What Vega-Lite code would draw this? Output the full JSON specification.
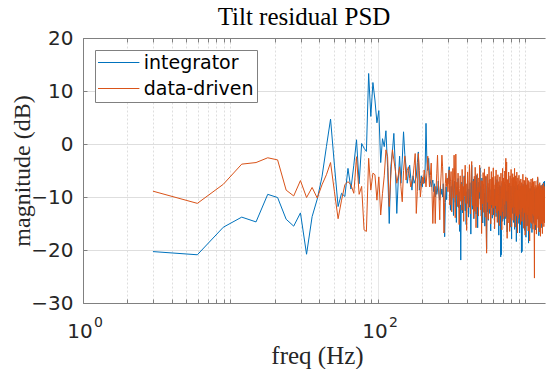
{
"$schema": "https://vega.github.io/schema/vega-lite/v6.json",
"width": 462, "height": 265,
"autosize": {"type": "none"},
"padding": {"left": 83, "top": 38, "right": 1, "bottom": 66},
"background": "white",
"title": {"text": "Tilt residual PSD", "font": "Liberation Serif", "fontSize": 25, "fontWeight": "normal", "color": "#000000", "anchor": "middle", "frame": "group", "offset": -22, "baseline": "alphabetic", "dx": -10},
"data": {"values": [
{"f":2.98,"integrator":-20.3,"data-driven":-8.9},
{"f":5.96,"integrator":-20.9,"data-driven":-11.2},
{"f":8.94,"integrator":-15.7,"data-driven":-7.6},
{"f":11.92,"integrator":-13.8,"data-driven":-3.8},
{"f":14.9,"integrator":-14.7,"data-driven":-3.5},
{"f":17.88,"integrator":-9.5,"data-driven":-2.6},
{"f":20.86,"integrator":-10.1,"data-driven":-3.0},
{"f":23.84,"integrator":-14.2,"data-driven":-8.7},
{"f":26.82,"integrator":-15.5,"data-driven":-9.8},
{"f":29.8,"integrator":-13.0,"data-driven":-6.9},
{"f":32.78,"integrator":-20.8,"data-driven":-10.1},
{"f":35.76,"integrator":-13.7,"data-driven":-8.2},
{"f":38.74,"integrator":-10.4,"data-driven":-10.2},
{"f":41.72,"integrator":-6.2,"data-driven":-7.7},
{"f":44.7,"integrator":-0.5,"data-driven":-5.8},
{"f":47.68,"integrator":4.7,"data-driven":-3.5},
{"f":50.66,"integrator":-4.0,"data-driven":-9.0},
{"f":53.64,"integrator":-11.8,"data-driven":-14.1},
{"f":56.62,"integrator":-9.3,"data-driven":-10.6},
{"f":59.6,"integrator":-9.9,"data-driven":-7.7},
{"f":62.58,"integrator":-4.6,"data-driven":-7.1},
{"f":65.56,"integrator":-8.5,"data-driven":-7.7},
{"f":68.54,"integrator":-4.0,"data-driven":-9.3},
{"f":71.52,"integrator":0.8,"data-driven":-2.4},
{"f":74.5,"integrator":-7.5,"data-driven":-9.5},
{"f":77.48,"integrator":0.1,"data-driven":-8.0},
{"f":80.46,"integrator":-0.8,"data-driven":-16.2},
{"f":83.44,"integrator":-1.4,"data-driven":-16.5},
{"f":86.42,"integrator":13.3,"data-driven":-2.7},
{"f":89.4,"integrator":5.2,"data-driven":-8.7},
{"f":92.38,"integrator":11.6,"data-driven":-5.5},
{"f":95.36,"integrator":8.3,"data-driven":-5.8},
{"f":98.34,"integrator":4.0,"data-driven":-10.6},
{"f":101.3,"integrator":6.3,"data-driven":-6.2},
{"f":104.3,"integrator":-3.5,"data-driven":-13.4},
{"f":107.3,"integrator":1.0,"data-driven":-9.3},
{"f":110.3,"integrator":-0.5,"data-driven":-6.0},
{"f":113.2,"integrator":2.5,"data-driven":-1.1},
{"f":116.2,"integrator":-4.5,"data-driven":-2.4},
{"f":119.2,"integrator":-15.0,"data-driven":-11.8},
{"f":122.2,"integrator":-4.3,"data-driven":-6.0},
{"f":125.2,"integrator":-1.5,"data-driven":-1.1},
{"f":128.1,"integrator":2.0,"data-driven":-3.0},
{"f":131.1,"integrator":-4.3,"data-driven":-4.9},
{"f":134.1,"integrator":-13.1,"data-driven":-7.4},
{"f":137.1,"integrator":-7.0,"data-driven":-6.0},
{"f":140.1,"integrator":-2.3,"data-driven":-4.3},
{"f":143,"integrator":-7.4,"data-driven":-8.0},
{"f":146,"integrator":-3.0,"data-driven":-10.9},
{"f":149,"integrator":2.3,"data-driven":-5.0},
{"f":152,"integrator":-2.0,"data-driven":-2.3},
{"f":155,"integrator":-4.3,"data-driven":-6.8},
{"f":157.9,"integrator":-7.4,"data-driven":-5.0},
{"f":160.9,"integrator":-5.5,"data-driven":-4.3},
{"f":163.9,"integrator":-4.0,"data-driven":-6.5},
{"f":166.9,"integrator":-6.5,"data-driven":-8.1},
{"f":169.9,"integrator":-8.7,"data-driven":-7.0},
{"f":172.8,"integrator":-6.0,"data-driven":-6.2},
{"f":175.8,"integrator":-7.4,"data-driven":-4.0},
{"f":178.8,"integrator":-6.8,"data-driven":-1.8},
{"f":181.8,"integrator":-6.2,"data-driven":-13.1},
{"f":184.8,"integrator":-3.5,"data-driven":-9.0},
{"f":187.7,"integrator":-1.5,"data-driven":-1.8},
{"f":190.7,"integrator":-8.7,"data-driven":-5.0},
{"f":193.7,"integrator":-7.5,"data-driven":-10.0},
{"f":196.7,"integrator":-6.0,"data-driven":-8.0},
{"f":199.7,"integrator":-8.1,"data-driven":-6.2},
{"f":202.6,"integrator":-6.5,"data-driven":-7.5},
{"f":205.6,"integrator":-7.4,"data-driven":-4.9},
{"f":208.6,"integrator":-5.0,"data-driven":-6.0},
{"f":211.6,"integrator":3.9,"data-driven":-8.1},
{"f":214.6,"integrator":-3.4,"data-driven":-5.5},
{"f":217.5,"integrator":-5.0,"data-driven":-2.3},
{"f":220.5,"integrator":-2.7,"data-driven":-5.0},
{"f":223.5,"integrator":-6.0,"data-driven":-8.1},
{"f":226.5,"integrator":-7.0,"data-driven":-6.0},
{"f":229.5,"integrator":-8.1,"data-driven":-3.6},
{"f":232.4,"integrator":-7.5,"data-driven":-9.0},
{"f":235.4,"integrator":-6.8,"data-driven":-15.0},
{"f":238.4,"integrator":-9.0,"data-driven":-10.0},
{"f":241.4,"integrator":-7.5,"data-driven":-8.0},
{"f":244.4,"integrator":-10.0,"data-driven":-15.0},
{"f":247.3,"integrator":-8.0,"data-driven":-9.0},
{"f":250.3,"integrator":-9.5,"data-driven":-5.5},
{"f":253.3,"integrator":-8.7,"data-driven":-2.1},
{"f":256.3,"integrator":-7.0,"data-driven":-7.0},
{"f":259.3,"integrator":-9.5,"data-driven":-10.0},
{"f":262.2,"integrator":-10.6,"data-driven":-14.3},
{"f":265.2,"integrator":-8.0,"data-driven":-8.0},
{"f":268.2,"integrator":-9.5,"data-driven":-5.5},
{"f":271.2,"integrator":-8.5,"data-driven":-2.1},
{"f":274.2,"integrator":-10.0,"data-driven":-4.3},
{"f":277.1,"integrator":-7.5,"data-driven":-9.0},
{"f":280.1,"integrator":-12.0,"data-driven":-16.8},
{"f":283.1,"integrator":-17.5,"data-driven":-11.0},
{"f":286.1,"integrator":-11.0,"data-driven":-7.5},
{"f":289.1,"integrator":-8.1,"data-driven":-5.5},
{"f":292,"integrator":-10.5,"data-driven":-8.0},
{"f":295,"integrator":-6.5,"data-driven":-6.5},
{"f":298,"integrator":-7.5,"data-driven":-9.0},
{"f":301,"integrator":-5.5,"data-driven":-6.0},
{"f":304,"integrator":-4.3,"data-driven":-4.9},
{"f":307,"integrator":-9.8,"data-driven":-11.5},
{"f":310,"integrator":-12.5,"data-driven":-7.0},
{"f":313,"integrator":-8.0,"data-driven":-5.2},
{"f":316,"integrator":-10.5,"data-driven":-12.8},
{"f":319,"integrator":-6.8,"data-driven":-8.5},
{"f":322,"integrator":-9.2,"data-driven":-4.6},
{"f":325,"integrator":-13.5,"data-driven":-10.2},
{"f":328,"integrator":-8.6,"data-driven":-2.1},
{"f":331,"integrator":-7.0,"data-driven":-6.8},
{"f":334,"integrator":-11.0,"data-driven":-13.9},
{"f":337,"integrator":-9.3,"data-driven":-1.9},
{"f":340,"integrator":-14.8,"data-driven":-9.6},
{"f":343,"integrator":-8.1,"data-driven":-7.2},
{"f":346,"integrator":-10.2,"data-driven":-11.8},
{"f":349,"integrator":-6.5,"data-driven":-5.5},
{"f":352,"integrator":-12.0,"data-driven":-9.0},
{"f":355,"integrator":-9.0,"data-driven":-15.2},
{"f":358,"integrator":-16.5,"data-driven":-8.4},
{"f":361,"integrator":-11.5,"data-driven":-6.0},
{"f":364,"integrator":-21.9,"data-driven":-10.8},
{"f":367,"integrator":-10.0,"data-driven":-7.6},
{"f":370,"integrator":-7.2,"data-driven":-12.5},
{"f":372,"integrator":-9.5,"data-driven":-4.8},
{"f":375,"integrator":-13.0,"data-driven":-10.5},
{"f":378,"integrator":-8.2,"data-driven":-8.0},
{"f":381,"integrator":-10.8,"data-driven":-14.6},
{"f":384,"integrator":-6.0,"data-driven":-6.2},
{"f":387,"integrator":-9.9,"data-driven":-9.8},
{"f":390,"integrator":-12.6,"data-driven":-4.0},
{"f":393,"integrator":-7.8,"data-driven":-11.2},
{"f":396,"integrator":-15.2,"data-driven":-7.5},
{"f":399,"integrator":-9.0,"data-driven":-16.3},
{"f":402,"integrator":-11.2,"data-driven":-8.8},
{"f":405,"integrator":-6.9,"data-driven":-5.3},
{"f":408,"integrator":-10.4,"data-driven":-9.9},
{"f":411,"integrator":-13.8,"data-driven":-12.0},
{"f":414,"integrator":-8.5,"data-driven":-6.6},
{"f":417,"integrator":-11.9,"data-driven":-3.9},
{"f":420,"integrator":-7.3,"data-driven":-10.3},
{"f":423,"integrator":-9.6,"data-driven":-13.2},
{"f":426,"integrator":-17.0,"data-driven":-8.1},
{"f":429,"integrator":-10.1,"data-driven":-5.0},
{"f":432,"integrator":-4.0,"data-driven":-3.3},
{"f":435,"integrator":-8.8,"data-driven":-9.2},
{"f":438,"integrator":-12.3,"data-driven":-11.6},
{"f":441,"integrator":-9.4,"data-driven":-7.0},
{"f":444,"integrator":-6.6,"data-driven":-14.0},
{"f":447,"integrator":-14.1,"data-driven":-9.5},
{"f":450,"integrator":-10.0,"data-driven":-6.1},
{"f":453,"integrator":-8.3,"data-driven":-12.7},
{"f":456,"integrator":-11.7,"data-driven":-4.4},
{"f":459,"integrator":-7.5,"data-driven":-8.7},
{"f":462,"integrator":-13.2,"data-driven":-15.8},
{"f":465,"integrator":-9.1,"data-driven":-10.4},
{"f":468,"integrator":-5.9,"data-driven":-7.3},
{"f":471,"integrator":-10.6,"data-driven":-5.6},
{"f":474,"integrator":-15.8,"data-driven":-11.9},
{"f":477,"integrator":-8.9,"data-driven":-8.2},
{"f":480,"integrator":-12.1,"data-driven":-13.6},
{"f":483,"integrator":-7.2,"data-driven":-6.4},
{"f":486,"integrator":-10.3,"data-driven":-9.1},
{"f":489,"integrator":-9.0,"data-driven":-4.0},
{"f":492,"integrator":-4.5,"data-driven":-7.7},
{"f":495,"integrator":-11.4,"data-driven":-12.4},
{"f":498,"integrator":-8.0,"data-driven":-9.3},
{"f":501,"integrator":-13.6,"data-driven":-6.9},
{"f":504,"integrator":-9.7,"data-driven":-16.9},
{"f":507,"integrator":-6.4,"data-driven":-10.1},
{"f":510,"integrator":-11.8,"data-driven":-7.0},
{"f":513,"integrator":-14.9,"data-driven":-11.3},
{"f":516,"integrator":-8.7,"data-driven":-5.4},
{"f":519,"integrator":-10.9,"data-driven":-8.6},
{"f":521,"integrator":-7.6,"data-driven":-12.9},
{"f":524,"integrator":-12.4,"data-driven":-7.8},
{"f":527,"integrator":-9.3,"data-driven":-4.7},
{"f":530,"integrator":-15.5,"data-driven":-10.7},
{"f":533,"integrator":-8.4,"data-driven":-13.8},
{"f":536,"integrator":-11.1,"data-driven":-8.3},
{"f":539,"integrator":-6.2,"data-driven":-6.0},
{"f":542,"integrator":-13.9,"data-driven":-17.5},
{"f":545,"integrator":-19.8,"data-driven":-20.6},
{"f":548,"integrator":-10.2,"data-driven":-9.4},
{"f":551,"integrator":-7.9,"data-driven":-5.7},
{"f":554,"integrator":-12.8,"data-driven":-11.0},
{"f":557,"integrator":-9.4,"data-driven":-7.4},
{"f":560,"integrator":-14.4,"data-driven":-14.2},
{"f":563,"integrator":-8.2,"data-driven":-9.8},
{"f":566,"integrator":-10.7,"data-driven":-4.3},
{"f":569,"integrator":-6.8,"data-driven":-8.9},
{"f":572,"integrator":-13.1,"data-driven":-12.3},
{"f":575,"integrator":-9.8,"data-driven":-6.6},
{"f":578,"integrator":-11.6,"data-driven":-10.0},
{"f":581,"integrator":-16.4,"data-driven":-15.1},
{"f":584,"integrator":-8.6,"data-driven":-7.9},
{"f":587,"integrator":-12.0,"data-driven":-5.2},
{"f":590,"integrator":-7.7,"data-driven":-11.5},
{"f":593,"integrator":-10.5,"data-driven":-8.4},
{"f":596,"integrator":-14.0,"data-driven":-13.4},
{"f":599,"integrator":-9.2,"data-driven":-6.3},
{"f":602,"integrator":-11.3,"data-driven":-9.6},
{"f":605,"integrator":-7.1,"data-driven":-4.5},
{"f":608,"integrator":-13.4,"data-driven":-12.1},
{"f":611,"integrator":-10.1,"data-driven":-7.7},
{"f":614,"integrator":-8.5,"data-driven":-10.9},
{"f":617,"integrator":-15.9,"data-driven":-16.0},
{"f":620,"integrator":-9.6,"data-driven":-8.8},
{"f":623,"integrator":-12.2,"data-driven":-6.1},
{"f":626,"integrator":-7.4,"data-driven":-11.7},
{"f":629,"integrator":-11.0,"data-driven":-9.0},
{"f":632,"integrator":-13.7,"data-driven":-4.9},
{"f":635,"integrator":-8.9,"data-driven":-13.0},
{"f":638,"integrator":-10.4,"data-driven":-7.3},
{"f":641,"integrator":-6.7,"data-driven":-10.2},
{"f":644,"integrator":-12.6,"data-driven":-14.8},
{"f":647,"integrator":-9.9,"data-driven":-8.0},
{"f":650,"integrator":-14.7,"data-driven":-5.8},
{"f":653,"integrator":-8.1,"data-driven":-12.6},
{"f":656,"integrator":-11.5,"data-driven":-9.5},
{"f":659,"integrator":-17.2,"data-driven":-7.1},
{"f":662,"integrator":-9.4,"data-driven":-11.8},
{"f":665,"integrator":-12.9,"data-driven":-15.4},
{"f":668,"integrator":-7.8,"data-driven":-8.5},
{"f":670,"integrator":-10.6,"data-driven":-6.2},
{"f":673,"integrator":-13.3,"data-driven":-10.6},
{"f":676,"integrator":-8.0,"data-driven":-13.5},
{"f":679,"integrator":-21.3,"data-driven":-9.2},
{"f":682,"integrator":-11.4,"data-driven":-5.5},
{"f":685,"integrator":-20.9,"data-driven":-11.9},
{"f":688,"integrator":-9.5,"data-driven":-8.1},
{"f":691,"integrator":-12.1,"data-driven":-16.2},
{"f":694,"integrator":-7.3,"data-driven":-7.0},
{"f":697,"integrator":-10.8,"data-driven":-10.3},
{"f":700,"integrator":-14.6,"data-driven":-4.6},
{"f":703,"integrator":-9.1,"data-driven":-12.8},
{"f":706,"integrator":-11.9,"data-driven":-8.7},
{"f":709,"integrator":-6.9,"data-driven":-6.4},
{"f":712,"integrator":-13.0,"data-driven":-14.1},
{"f":715,"integrator":-10.3,"data-driven":-9.9},
{"f":718,"integrator":-8.4,"data-driven":-7.2},
{"f":721,"integrator":-15.3,"data-driven":-11.4},
{"f":724,"integrator":-9.7,"data-driven":-5.1},
{"f":727,"integrator":-12.4,"data-driven":-13.7},
{"f":730,"integrator":-7.6,"data-driven":-8.3},
{"f":733,"integrator":-11.2,"data-driven":-4.2},
{"f":736,"integrator":-14.1,"data-driven":-2.7},
{"f":739,"integrator":-8.8,"data-driven":-10.8},
{"f":742,"integrator":-10.9,"data-driven":-7.6},
{"f":745,"integrator":-13.8,"data-driven":-3.4},
{"f":748,"integrator":-9.0,"data-driven":-12.2},
{"f":751,"integrator":-16.6,"data-driven":-17.8},
{"f":754,"integrator":-10.5,"data-driven":-9.1},
{"f":757,"integrator":-7.7,"data-driven":-6.7},
{"f":760,"integrator":-12.7,"data-driven":-11.6},
{"f":763,"integrator":-9.3,"data-driven":-14.9},
{"f":766,"integrator":-11.6,"data-driven":-8.0},
{"f":769,"integrator":-6.4,"data-driven":-5.3},
{"f":772,"integrator":-14.2,"data-driven":-12.9},
{"f":775,"integrator":-10.0,"data-driven":-10.0},
{"f":778,"integrator":-12.8,"data-driven":-7.4},
{"f":781,"integrator":-8.6,"data-driven":-16.5},
{"f":784,"integrator":-11.1,"data-driven":-9.3},
{"f":787,"integrator":-15.7,"data-driven":-6.0},
{"f":790,"integrator":-9.4,"data-driven":-11.1},
{"f":793,"integrator":-13.5,"data-driven":-13.9},
{"f":796,"integrator":-7.9,"data-driven":-7.8},
{"f":799,"integrator":-10.7,"data-driven":-4.8},
{"f":802,"integrator":-12.3,"data-driven":-10.5},
{"f":805,"integrator":-17.9,"data-driven":-15.6},
{"f":808,"integrator":-9.8,"data-driven":-8.6},
{"f":811,"integrator":-11.4,"data-driven":-6.5},
{"f":814,"integrator":-8.3,"data-driven":-12.0},
{"f":817,"integrator":-13.1,"data-driven":-9.4},
{"f":819,"integrator":-10.2,"data-driven":-5.6},
{"f":822,"integrator":-7.5,"data-driven":-11.3},
{"f":825,"integrator":-12.6,"data-driven":-14.4},
{"f":828,"integrator":-9.1,"data-driven":-8.2},
{"f":831,"integrator":-14.8,"data-driven":-6.3},
{"f":834,"integrator":-10.9,"data-driven":-10.7},
{"f":837,"integrator":-8.0,"data-driven":-13.1},
{"f":840,"integrator":-12.0,"data-driven":-7.5},
{"f":843,"integrator":-16.1,"data-driven":-4.6},
{"f":846,"integrator":-9.6,"data-driven":-11.9},
{"f":849,"integrator":-11.7,"data-driven":-9.0},
{"f":852,"integrator":-7.2,"data-driven":-15.7},
{"f":855,"integrator":-13.6,"data-driven":-8.4},
{"f":858,"integrator":-10.4,"data-driven":-6.0},
{"f":861,"integrator":-12.5,"data-driven":-12.5},
{"f":864,"integrator":-8.7,"data-driven":-10.1},
{"f":867,"integrator":-18.4,"data-driven":-7.1},
{"f":870,"integrator":-11.0,"data-driven":-13.6},
{"f":873,"integrator":-9.3,"data-driven":-5.3},
{"f":876,"integrator":-13.9,"data-driven":-10.9},
{"f":879,"integrator":-10.6,"data-driven":-8.7},
{"f":882,"integrator":-7.8,"data-driven":-16.8},
{"f":885,"integrator":-12.2,"data-driven":-9.6},
{"f":888,"integrator":-9.9,"data-driven":-6.4},
{"f":891,"integrator":-15.0,"data-driven":-11.7},
{"f":894,"integrator":-11.3,"data-driven":-14.0},
{"f":897,"integrator":-8.2,"data-driven":-7.6},
{"f":900,"integrator":-13.4,"data-driven":-9.8},
{"f":903,"integrator":-10.1,"data-driven":-5.9},
{"f":906,"integrator":-12.9,"data-driven":-12.4},
{"f":909,"integrator":-9.0,"data-driven":-8.9},
{"f":912,"integrator":-16.8,"data-driven":-10.6},
{"f":915,"integrator":-11.5,"data-driven":-6.9},
{"f":918,"integrator":-8.5,"data-driven":-13.3},
{"f":921,"integrator":-13.0,"data-driven":-8.1},
{"f":924,"integrator":-10.3,"data-driven":-15.2},
{"f":927,"integrator":-12.6,"data-driven":-10.3},
{"f":930,"integrator":-7.9,"data-driven":-6.6},
{"f":933,"integrator":-14.3,"data-driven":-11.5},
{"f":936,"integrator":-10.8,"data-driven":-9.2},
{"f":939,"integrator":-20.5,"data-driven":-12.8},
{"f":942,"integrator":-11.9,"data-driven":-7.3},
{"f":945,"integrator":-9.2,"data-driven":-14.6},
{"f":948,"integrator":-20.3,"data-driven":-10.0},
{"f":951,"integrator":-12.2,"data-driven":-7.9},
{"f":954,"integrator":-8.8,"data-driven":-12.1},
{"f":957,"integrator":-13.7,"data-driven":-9.5},
{"f":960,"integrator":-10.5,"data-driven":-5.7},
{"f":963,"integrator":-7.6,"data-driven":-13.8},
{"f":966,"integrator":-12.8,"data-driven":-10.4},
{"f":968,"integrator":-9.7,"data-driven":-8.0},
{"f":971,"integrator":-14.5,"data-driven":-15.9},
{"f":974,"integrator":-11.1,"data-driven":-11.2},
{"f":977,"integrator":-8.3,"data-driven":-6.8},
{"f":980,"integrator":-12.9,"data-driven":-13.0},
{"f":983,"integrator":-10.0,"data-driven":-9.7},
{"f":986,"integrator":-16.3,"data-driven":-7.0},
{"f":989,"integrator":-11.8,"data-driven":-12.7},
{"f":992,"integrator":-8.9,"data-driven":-10.5},
{"f":995,"integrator":-13.2,"data-driven":-17.2},
{"f":998,"integrator":-10.6,"data-driven":-8.3},
{"f":1001,"integrator":-7.4,"data-driven":-11.6},
{"f":1004,"integrator":-12.4,"data-driven":-6.2},
{"f":1007,"integrator":-17.6,"data-driven":-14.3},
{"f":1010,"integrator":-11.0,"data-driven":-9.9},
{"f":1013,"integrator":-9.5,"data-driven":-7.7},
{"f":1016,"integrator":-13.8,"data-driven":-12.9},
{"f":1019,"integrator":-10.2,"data-driven":-10.8},
{"f":1022,"integrator":-8.1,"data-driven":-15.5},
{"f":1025,"integrator":-12.7,"data-driven":-8.6},
{"f":1028,"integrator":-15.4,"data-driven":-6.4},
{"f":1031,"integrator":-10.9,"data-driven":-13.4},
{"f":1034,"integrator":-9.0,"data-driven":-10.2},
{"f":1037,"integrator":-13.3,"data-driven":-7.5},
{"f":1040,"integrator":-11.4,"data-driven":-12.0},
{"f":1043,"integrator":-7.7,"data-driven":-16.4},
{"f":1046,"integrator":-12.5,"data-driven":-9.1},
{"f":1049,"integrator":-18.7,"data-driven":-11.9},
{"f":1052,"integrator":-10.8,"data-driven":-6.9},
{"f":1055,"integrator":-9.3,"data-driven":-14.1},
{"f":1058,"integrator":-14.0,"data-driven":-10.6},
{"f":1061,"integrator":-11.2,"data-driven":-8.4},
{"f":1064,"integrator":-8.6,"data-driven":-12.6},
{"f":1067,"integrator":-12.8,"data-driven":-18.3},
{"f":1070,"integrator":-10.3,"data-driven":-9.4},
{"f":1073,"integrator":-15.9,"data-driven":-7.2},
{"f":1076,"integrator":-11.6,"data-driven":-13.7},
{"f":1079,"integrator":-8.4,"data-driven":-10.0},
{"f":1082,"integrator":-13.1,"data-driven":-8.8},
{"f":1085,"integrator":-10.7,"data-driven":-14.8},
{"f":1088,"integrator":-9.4,"data-driven":-11.1},
{"f":1091,"integrator":-14.4,"data-driven":-6.6},
{"f":1094,"integrator":-11.9,"data-driven":-12.3},
{"f":1097,"integrator":-8.0,"data-driven":-9.6},
{"f":1100,"integrator":-12.6,"data-driven":-15.0},
{"f":1103,"integrator":-10.1,"data-driven":-8.2},
{"f":1106,"integrator":-16.7,"data-driven":-11.4},
{"f":1109,"integrator":-11.3,"data-driven":-7.4},
{"f":1112,"integrator":-9.1,"data-driven":-13.2},
{"f":1115,"integrator":-13.5,"data-driven":-10.7},
{"f":1117,"integrator":-10.4,"data-driven":-6.5},
{"f":1120,"integrator":-8.7,"data-driven":-12.1},
{"f":1123,"integrator":-13.9,"data-driven":-16.1},
{"f":1126,"integrator":-11.0,"data-driven":-9.0},
{"f":1129,"integrator":-9.6,"data-driven":-11.8},
{"f":1132,"integrator":-14.8,"data-driven":-7.1},
{"f":1135,"integrator":-11.5,"data-driven":-13.5},
{"f":1138,"integrator":-8.2,"data-driven":-10.3},
{"f":1141,"integrator":-12.3,"data-driven":-8.1},
{"f":1144,"integrator":-10.0,"data-driven":-14.6},
{"f":1147,"integrator":-15.1,"data-driven":-19.5},
{"f":1150,"integrator":-11.7,"data-driven":-25.3},
{"f":1153,"integrator":-9.0,"data-driven":-12.4},
{"f":1156,"integrator":-13.4,"data-driven":-9.2},
{"f":1159,"integrator":-10.6,"data-driven":-7.0},
{"f":1162,"integrator":-8.5,"data-driven":-13.9},
{"f":1165,"integrator":-12.9,"data-driven":-10.9},
{"f":1168,"integrator":-16.2,"data-driven":-8.5},
{"f":1171,"integrator":-11.1,"data-driven":-15.3},
{"f":1174,"integrator":-9.7,"data-driven":-11.0},
{"f":1177,"integrator":-13.6,"data-driven":-7.8},
{"f":1180,"integrator":-10.2,"data-driven":-12.8},
{"f":1183,"integrator":-8.3,"data-driven":-9.8},
{"f":1186,"integrator":-12.1,"data-driven":-17.0},
{"f":1189,"integrator":-14.7,"data-driven":-10.1},
{"f":1192,"integrator":-10.9,"data-driven":-8.2},
{"f":1195,"integrator":-9.1,"data-driven":-13.1},
{"f":1198,"integrator":-13.0,"data-driven":-11.3},
{"f":1201,"integrator":-11.4,"data-driven":-6.9},
{"f":1204,"integrator":-8.8,"data-driven":-14.2},
{"f":1207,"integrator":-12.7,"data-driven":-10.5},
{"f":1210,"integrator":-6.5,"data-driven":-6.2},
{"f":1213,"integrator":-11.8,"data-driven":-12.9},
{"f":1216,"integrator":-9.5,"data-driven":-9.3},
{"f":1219,"integrator":-14.1,"data-driven":-15.8},
{"f":1222,"integrator":-10.7,"data-driven":-11.6},
{"f":1225,"integrator":-8.6,"data-driven":-8.0},
{"f":1228,"integrator":-12.4,"data-driven":-13.6},
{"f":1231,"integrator":-17.3,"data-driven":-10.0},
{"f":1234,"integrator":-10.3,"data-driven":-7.6},
{"f":1237,"integrator":-9.0,"data-driven":-12.2},
{"f":1240,"integrator":-13.3,"data-driven":-16.6},
{"f":1243,"integrator":-11.0,"data-driven":-9.5},
{"f":1246,"integrator":-8.4,"data-driven":-11.4},
{"f":1249,"integrator":-12.2,"data-driven":-7.3},
{"f":1252,"integrator":-14.9,"data-driven":-14.0},
{"f":1255,"integrator":-10.5,"data-driven":-10.8},
{"f":1258,"integrator":-9.2,"data-driven":-8.7},
{"f":1261,"integrator":-13.7,"data-driven":-13.3},
{"f":1264,"integrator":-11.3,"data-driven":-17.4},
{"f":1266,"integrator":-8.9,"data-driven":-10.2},
{"f":1269,"integrator":-12.8,"data-driven":-7.9},
{"f":1272,"integrator":-10.1,"data-driven":-13.0},
{"f":1275,"integrator":-7.8,"data-driven":-11.1},
{"f":1278,"integrator":-13.5,"data-driven":-9.0},
{"f":1281,"integrator":-11.2,"data-driven":-15.0},
{"f":1284,"integrator":-9.3,"data-driven":-11.9},
{"f":1287,"integrator":-12.6,"data-driven":-8.3},
{"f":1290,"integrator":-15.8,"data-driven":-13.8},
{"f":1293,"integrator":-10.4,"data-driven":-10.4},
{"f":1296,"integrator":-8.0,"data-driven":-7.7},
{"f":1299,"integrator":-12.0,"data-driven":-12.6},
{"f":1302,"integrator":-9.8,"data-driven":-16.9},
{"f":1305,"integrator":-13.9,"data-driven":-10.9},
{"f":1308,"integrator":-11.1,"data-driven":-8.6},
{"f":1311,"integrator":-7.5,"data-driven":-13.4},
{"f":1314,"integrator":-12.3,"data-driven":-11.5},
{"f":1317,"integrator":-10.0,"data-driven":-9.1},
{"f":1320,"integrator":-14.6,"data-driven":-14.4},
{"f":1323,"integrator":-9.4,"data-driven":-10.6},
{"f":1326,"integrator":-7.2,"data-driven":-7.4},
{"f":1329,"integrator":-11.7,"data-driven":-12.7},
{"f":1332,"integrator":-9.9,"data-driven":-15.6},
{"f":1335,"integrator":-13.2,"data-driven":-11.0},
{"f":1338,"integrator":-8.6,"data-driven":-8.8},
{"f":1341,"integrator":-11.0,"data-driven":-13.3},
{"f":1344,"integrator":-7.0,"data-driven":-10.1},
{"f":1347,"integrator":-12.1,"data-driven":-14.9},
{"f":1350,"integrator":-9.7,"data-driven":-11.2},
{"f":1353,"integrator":-8.1,"data-driven":-8.0},
{"f":1356,"integrator":-11.5,"data-driven":-12.4}
]},
"transform": [{"fold": ["integrator", "data-driven"], "as": ["series", "dB"]}],
"layer": [
{
"transform": [{"filter": "datum.series == 'integrator'"}],
"mark": {"type": "line", "strokeWidth": 1, "clip": true},
"encoding": {
"x": {"field": "f", "type": "quantitative", "scale": {"type": "log", "domain": [1, 1356], "nice": false},
"axis": {"orient": "bottom", "values": [1,2,3,4,5,6,7,8,9,10,20,30,40,50,60,70,80,90,100,200,300,400,500,600,700,800,900,1000],
"labelExpr": "datum.value == 1 || datum.value == 100 ? '10' : ''",
"labelFont": "DejaVu Sans", "labelFontSize": 20, "labelColor": "#262626", "labelPadding": 22, "labelOffset": -3.5,
"tickSize": -4, "tickColor": "#808080", "tickWidth": 1, "domainColor": "#808080", "domainWidth": 1,
"grid": true, "gridColor": "#dedede", "gridWidth": 1,
"gridDash": {"condition": {"test": "datum.value == 100", "value": [1, 0]}, "value": [2, 2]},
"title": "freq (Hz)", "titleFont": "Liberation Serif", "titleFontSize": 25, "titleFontWeight": "normal", "titleColor": "#262626",
"titleX": 234, "titleY": 60, "titleBaseline": "alphabetic", "titleAlign": "center"}},
"y": {"field": "dB", "type": "quantitative", "scale": {"domain": [-30, 20], "nice": false, "zero": false},
"axis": {"orient": "left", "values": [-30,-20,-10,0,10,20], "labelFont": "DejaVu Sans", "labelFontSize": 20, "labelColor": "#262626", "labelPadding": 14,
"tickSize": -4, "tickColor": "#808080", "domainColor": "#808080", "grid": true, "gridColor": "#dedede",
"title": "magnitude (dB)", "titleFont": "Liberation Serif", "titleFontSize": 24, "titleFontWeight": "normal", "titleColor": "#262626",
"titleX": -61, "titleY": 132.5, "titleAngle": -90, "titleBaseline": "middle", "titleAlign": "center"}},
"color": {"field": "series", "type": "nominal", "scale": {"domain": ["integrator", "data-driven"], "range": ["#0072BD", "#D95319"]},
"legend": {"orient": "none", "legendX": 12, "legendY": 12, "title": null, "symbolType": "M-2.3,0H2.3", "symbolSize": 324, "symbolStrokeWidth": 1, "symbolOffset": 11.2,
"labelFont": "DejaVu Sans", "labelFontSize": 19, "labelColor": "#000000", "labelOffset": 15.5, "rowPadding": 6, "padding": 3, "strokeColor": "#808080", "fillColor": "#ffffff", "cornerRadius": 0}}
}
},
{
"transform": [{"filter": "datum.series == 'data-driven'"}],
"mark": {"type": "line", "strokeWidth": 1, "clip": true},
"encoding": {
"x": {"field": "f", "type": "quantitative", "scale": {"type": "log", "domain": [1, 1356], "nice": false},
"axis": {"orient": "top", "values": [1,2,3,4,5,6,7,8,9,10,20,30,40,50,60,70,80,90,100,200,300,400,500,600,700,800,900,1000],
"labels": false, "tickSize": -4, "tickColor": "#808080", "domainColor": "#808080", "grid": false, "title": null}},
"y": {"field": "dB", "type": "quantitative", "scale": {"domain": [-30, 20], "nice": false, "zero": false}, "axis": null},
"color": {"field": "series", "type": "nominal", "scale": {"domain": ["integrator", "data-driven"], "range": ["#0072BD", "#D95319"]},
"legend": {"orient": "none", "legendX": 12, "legendY": 12, "title": null, "symbolType": "M-2.3,0H2.3", "symbolSize": 324, "symbolStrokeWidth": 1, "symbolOffset": 11.2,
"labelFont": "DejaVu Sans", "labelFontSize": 19, "labelColor": "#000000", "labelOffset": 15.5, "rowPadding": 6, "padding": 3, "strokeColor": "#808080", "fillColor": "#ffffff", "cornerRadius": 0}}
}
},
{
"transform": [{"filter": "datum.series == 'integrator'"}],
"mark": {"type": "line", "strokeOpacity": 0},
"encoding": {
"x": {"field": "f", "type": "quantitative", "scale": {"type": "log", "domain": [1, 1356], "nice": false},
"axis": {"orient": "bottom", "values": [1, 100], "labelExpr": "datum.value == 1 ? '0' : '2'", "labelFont": "DejaVu Sans", "labelFontSize": 14, "labelColor": "#262626",
"labelPadding": 12, "labelOffset": 15, "ticks": false, "domain": false, "grid": false, "title": null}},
"y": {"field": "dB", "type": "quantitative", "scale": {"domain": [-30, 20], "nice": false, "zero": false}, "axis": null}
}
}
],
"resolve": {"axis": {"x": "independent", "y": "independent"}},
"config": {"view": {"stroke": null}, "axis": {"labelFlush": false, "labelOverlap": false, "labelBound": false}}
}
